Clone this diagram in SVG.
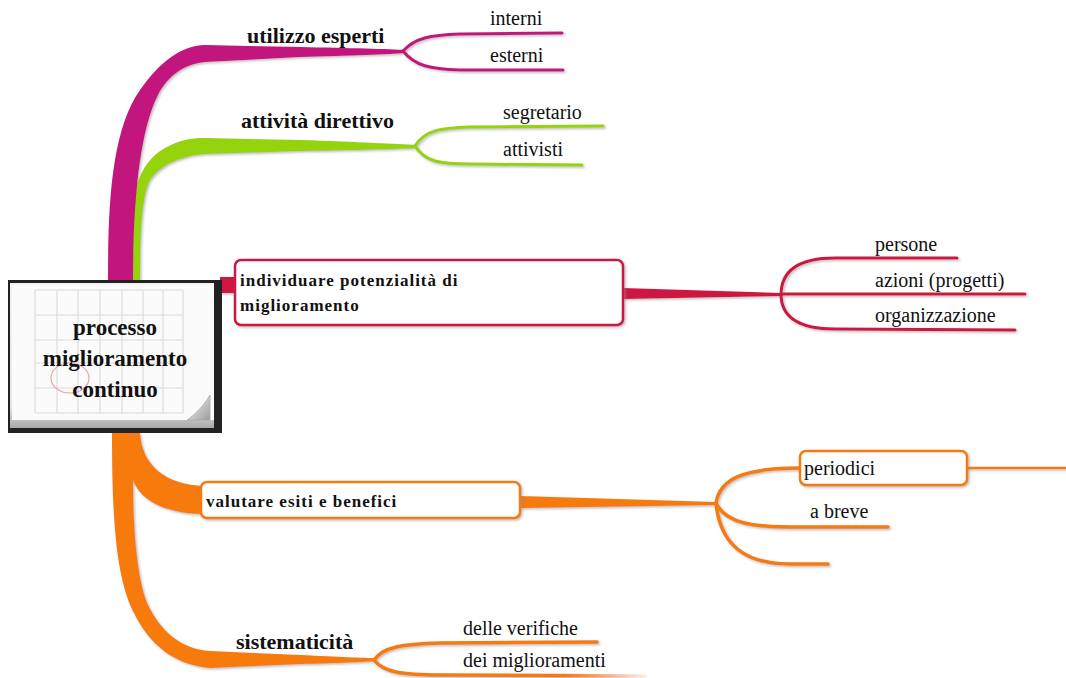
<svg xmlns="http://www.w3.org/2000/svg" width="1066" height="678" viewBox="0 0 1066 678">
<defs>
<filter id="sh" x="-5%" y="-20%" width="110%" height="140%">
<feDropShadow dx="1.5" dy="1.5" stdDeviation="1" flood-color="#888" flood-opacity="0.55"/>
</filter>
<linearGradient id="frame" x1="0" y1="0" x2="0" y2="1">
<stop offset="0" stop-color="#f4f4f4"/>
<stop offset="0.85" stop-color="#e6e6e6"/>
<stop offset="1" stop-color="#a9a9a9"/>
</linearGradient>
<linearGradient id="curl" x1="0" y1="0" x2="1" y2="1">
<stop offset="0" stop-color="#ffffff"/>
<stop offset="1" stop-color="#9a9a9a"/>
</linearGradient>
<linearGradient id="fadeO" x1="0" y1="0" x2="1" y2="0">
<stop offset="0" stop-color="#F77A10"/>
<stop offset="0.7" stop-color="#F77A10"/>
<stop offset="1" stop-color="#F77A10" stop-opacity="0.1"/>
</linearGradient>
</defs>
<style>
.lbl{font-family:"Liberation Serif","Times New Roman",serif;font-size:20px;fill:#111}
.main{font-family:"Liberation Serif","Times New Roman",serif;font-size:22px;font-weight:bold;fill:#111}
.box{font-family:"Liberation Serif","Times New Roman",serif;font-size:17px;font-weight:bold;letter-spacing:1px;fill:#111}
.ctr{font-family:"Liberation Serif","Times New Roman",serif;font-size:23px;font-weight:bold;fill:#111;text-anchor:middle}
.mg{fill:#C2137E}
.gr{fill:#95D40B}
.rd{fill:#CE1443}
.or{fill:#F77A10}
.smg{fill:none;stroke:#C2137E;stroke-width:3;stroke-linecap:round}
.sgr{fill:none;stroke:#95D40B;stroke-width:3;stroke-linecap:round}
.srd{fill:none;stroke:#CE1443;stroke-width:3;stroke-linecap:round}
.sor{fill:none;stroke:#F77A10;stroke-width:3.5;stroke-linecap:round}
.grid{stroke:#dcdcdc;stroke-width:1.2;fill:none}
</style>

<g id="connectors" filter="url(#sh)">
<path class="gr" d="M128,280 C128,200 135,165 165,148 C180,140 190,138 205,138 L300,140 C360,142 395,144 417,145 L417,148 C395,149 360,150 300,151 L205,154 C180,156 160,165 150,180 C142,195 140,230 140,280 Z"/>
<path class="mg" d="M108,280 C108,200 112,130 140,90 C160,62 180,46 205,45 L300,47 C350,48 390,49 405,50 L405,53 C390,54 350,56 300,57 L205,62 C185,64 168,75 158,95 C140,130 133,200 133,280 Z"/>
<path class="smg" d="M403,51 C415,38 430,35 460,34 L562,33"/>
<path class="smg" d="M403,51 C415,66 430,69 460,70 L563,70"/>
<path class="sgr" d="M415,146 C425,130 440,128 470,127 L603,126"/>
<path class="sgr" d="M415,146 C425,162 440,164 470,164 L582,165"/>
<rect class="rd" x="220" y="277" width="17" height="16"/>
<path class="rd" d="M623,288 L782,293 L782,296 L623,299 Z"/>
<path class="srd" d="M781,295 C781,270 800,258 835,258 L957,258"/>
<path class="srd" d="M781,294 L1025,294"/>
<path class="srd" d="M781,294 C781,318 800,329 835,329 L1015,330"/>
<path class="or" d="M112,433 C112,520 116,580 135,615 C150,645 175,665 210,668 L300,664 C340,663 362,662 376,661 L376,658 C362,658 340,657 300,655 L210,651 C180,649 160,630 148,605 C137,580 133,530 133,480 C140,500 165,514 205,514 L205,486 C165,485 142,465 140,433 Z"/>
<path class="or" d="M520,496 L716,502 L716,505 L520,508 Z"/>
<path class="sor" d="M716,503 C720,478 745,468 800,468"/>
<path class="sor" d="M716,503 C725,522 750,527 790,527 L888,527"/>
<path class="sor" d="M716,503 C720,545 745,564 790,564 L828,564"/>
<path class="sor" d="M967,468 L1066,468" style="stroke-width:2.5"/>
<path class="sor" d="M374,660 C383,647 402,644 440,643 L597,642"/>
<path d="M374,660 C383,672 402,675 440,675 L645,676" style="fill:none;stroke:url(#fadeO);stroke-width:3.5;stroke-linecap:round"/>
</g>

<g id="node-center">
<rect x="8" y="280" width="214" height="153" fill="#222"/>
<rect x="10" y="283" width="204" height="145" fill="url(#frame)"/>
<rect x="12" y="285" width="202" height="135" fill="#fbfbfb"/>
<g class="grid">
<path d="M35,290 V413 M57,290 V413 M78,290 V413 M100,290 V413 M122,290 V413 M143,290 V413 M163,290 V413 M183,290 V413"/>
<path d="M35,290 H183 M35,315 H183 M35,340 H183 M35,363 H183 M35,388 H183 M35,413 H183"/>
</g>
<ellipse cx="70" cy="378" rx="19" ry="15" fill="none" stroke="#f0a0a8" stroke-width="1.2"/>
<path d="M187,420 L210,420 L210,395 C204,405 196,414 187,420 Z" fill="url(#curl)" stroke="#aaa" stroke-width="0.8"/>
<text class="ctr" x="115" y="335">processo</text>
<text class="ctr" x="115" y="366">miglioramento</text>
<text class="ctr" x="115" y="397">continuo</text>
</g>

<g id="node-utilizzo"><text class="main" x="247" y="43">utilizzo esperti</text></g>
<g id="node-interni"><text class="lbl" x="490" y="25">interni</text></g>
<g id="node-esterni"><text class="lbl" x="490" y="62">esterni</text></g>

<g id="node-attivita"><text class="main" x="241" y="128">attività direttivo</text></g>
<g id="node-segretario"><text class="lbl" x="503" y="119">segretario</text></g>
<g id="node-attivisti"><text class="lbl" x="503" y="156">attivisti</text></g>

<g id="node-individuare">
<rect x="235" y="260" width="388" height="65" rx="6" fill="#fff" stroke="#CE1443" stroke-width="2.5" filter="url(#sh)"/>
<text class="box" x="240" y="286">individuare potenzialità di</text>
<text class="box" x="240" y="311">miglioramento</text>
</g>
<g id="node-persone"><text class="lbl" x="875" y="251">persone</text></g>
<g id="node-azioni"><text class="lbl" x="875" y="287">azioni (progetti)</text></g>
<g id="node-organizzazione"><text class="lbl" x="875" y="322">organizzazione</text></g>

<g id="node-valutare">
<rect x="201" y="482" width="319" height="36" rx="6" fill="#fff" stroke="#F77A10" stroke-width="2.5" filter="url(#sh)"/>
<text class="box" x="206" y="507">valutare esiti e benefici</text>
</g>
<g id="node-periodici">
<rect x="800" y="451" width="167" height="34" rx="6" fill="#fff" stroke="#F77A10" stroke-width="2.5" filter="url(#sh)"/>
<text class="lbl" x="804" y="475">periodici</text>
</g>
<g id="node-abreve"><text class="lbl" x="810" y="518">a breve</text></g>

<g id="node-sistematicita"><text class="main" x="236" y="649">sistematicità</text></g>
<g id="node-verifiche"><text class="lbl" x="463" y="635">delle verifiche</text></g>
<g id="node-miglioramenti"><text class="lbl" x="463" y="667">dei miglioramenti</text></g>
</svg>
